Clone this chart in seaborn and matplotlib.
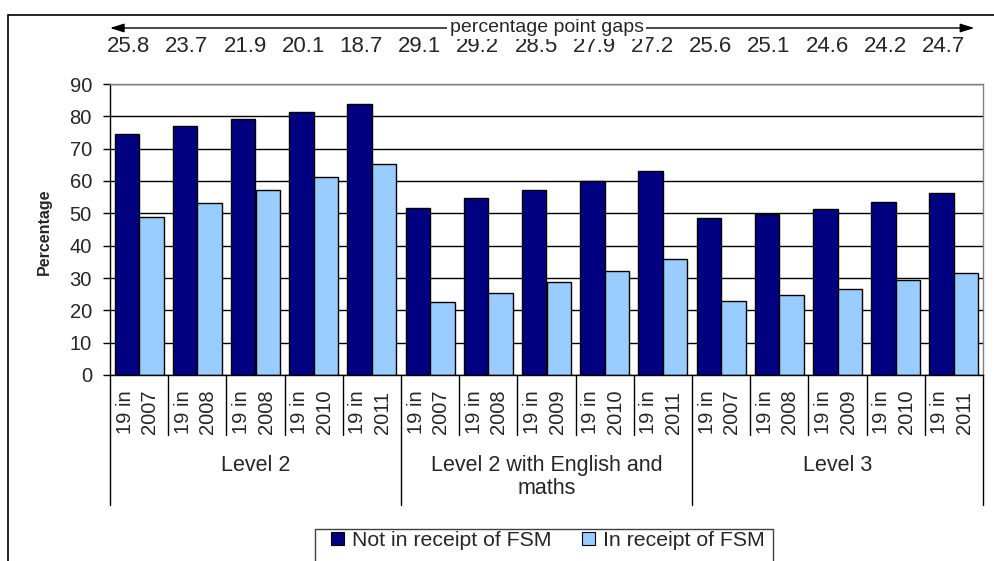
import matplotlib
matplotlib.use("Agg")
import matplotlib.pyplot as plt
import matplotlib.transforms as mtransforms
from matplotlib.patches import Patch, Rectangle
from matplotlib.lines import Line2D
import seaborn as sns
import pandas as pd

# ---------------- data ----------------
groups = ["Level 2", "Level 2 with English and\nmaths", "Level 3"]
year_labels = ["2007", "2008", "2008", "2010", "2011",
               "2007", "2008", "2009", "2010", "2011",
               "2007", "2008", "2009", "2010", "2011"]
not_fsm = [74.6, 77.0, 79.2, 81.3, 83.9,
           51.8, 54.6, 57.2, 60.1, 63.0,
           48.5, 49.7, 51.2, 53.6, 56.4]
fsm = [48.8, 53.3, 57.3, 61.2, 65.2,
       22.7, 25.4, 28.7, 32.2, 35.8,
       22.9, 24.6, 26.6, 29.4, 31.7]
gaps = ["25.8", "23.7", "21.9", "20.1", "18.7",
        "29.1", "29.2", "28.5", "27.9", "27.2",
        "25.6", "25.1", "24.6", "24.2", "24.7"]
series_names = ["Not in receipt of FSM", "In receipt of FSM"]
colors = ["#000080", "#99CCFF"]
per_group = 5

# ---------------- table ----------------
cats = [f"{groups[i // per_group]}|{i}" for i in range(len(year_labels))]
rows = []
for c, a, b in zip(cats, not_fsm, fsm):
    rows.append({"cat": c, "series": series_names[0], "value": a})
    rows.append({"cat": c, "series": series_names[1], "value": b})
df = pd.DataFrame(rows)

# ---------------- figure ----------------
sns.set_style("white")
plt.rcParams["font.family"] = ["Liberation Sans", "DejaVu Sans"]

W, H = 994, 561
fig = plt.figure(figsize=(W / 100, H / 100), dpi=100)
ax = fig.add_axes([110 / W, 1 - 375 / H, 873 / W, 291 / H])

sns.barplot(data=df, x="cat", y="value", hue="series", order=cats,
            hue_order=series_names, palette=colors, width=0.84,
            edgecolor="black", linewidth=1.0, saturation=1,
            errorbar=None, legend=False, ax=ax)

ax.set_ylim(0, 90)
ax.set_xlim(-0.5, len(cats) - 0.5)
ax.set_yticks(range(0, 91, 10))
ax.set_xticks([])
ax.set_xlabel("")
ax.set_ylabel("")
ax.yaxis.grid(True, color="black", linewidth=1.0)
ax.set_axisbelow(True)
ax.tick_params(axis="y", direction="out", length=5, width=1, color="black",
               pad=8, labelsize=14.5, left=True)
for side in ["left", "bottom"]:
    ax.spines[side].set_color("black")
    ax.spines[side].set_linewidth(1.0)
for side in ["top", "right"]:
    ax.spines[side].set_color("#808080")
    ax.spines[side].set_linewidth(1.0)

blend = mtransforms.blended_transform_factory(ax.transData, fig.transFigure)
y0 = 1 - 375 / H

# category dividers
for k in range(len(cats) + 1):
    ybot = 1 - (505 if k % per_group == 0 else 435) / H
    ax.add_line(Line2D([k - 0.5, k - 0.5], [y0, ybot], transform=blend,
                       color="black", linewidth=1.0, clip_on=False))

# inner category labels
for i, yr in enumerate(year_labels):
    ax.text(i - 0.03, 1 - 434 / H, "19 in\n" + yr, rotation=90, ha="center",
            va="bottom", multialignment="left", fontsize=14.5,
            linespacing=1.38, transform=blend, clip_on=False)

# group labels
for g, name in enumerate(groups):
    cx = g * per_group + (per_group - 1) / 2
    ax.text(cx, 1 - 455 / H, name, ha="center", va="top", fontsize=15.5,
            linespacing=1.15, transform=blend, clip_on=False)

# gap labels
for i, gtxt in enumerate(gaps):
    ax.text(i - 0.18, 1 - 46 / H, gtxt, ha="center", va="center",
            fontsize=16, transform=blend, clip_on=False)

# percentage point gaps arrow
ya = 1 - 28 / H
ax.annotate("", xy=(-0.5, ya), xytext=(14.35, ya), xycoords=blend,
            textcoords=blend,
            arrowprops=dict(arrowstyle="<|-|>,head_length=0.7,head_width=0.22",
                            color="black", linewidth=1.0, shrinkA=0, shrinkB=0,
                            mutation_scale=12))
ax.text(7, ya, "percentage point gaps", ha="center", va="center",
        fontsize=14, transform=blend, clip_on=False, zorder=5,
        bbox=dict(facecolor="white", edgecolor="none", pad=1.5))

# y label
fig.text(44 / W, 1 - 232 / H, "Percentage", rotation=90, ha="center",
         va="center", fontsize=11.5, fontweight="bold")

# outer frame
fig.add_artist(Rectangle((8 / W, -0.2), 1.2, 1.2 - 15 / H,
                         transform=fig.transFigure, fill=False,
                         edgecolor="black", linewidth=1.2))

# legend (entries) + its frame
handles = [Patch(facecolor=c, edgecolor="black", linewidth=0.8) for c in colors]
leg = fig.legend(handles, series_names, loc="upper left",
                 bbox_to_anchor=(331 / W, 1 - 531 / H), ncol=2,
                 fontsize=15.3, frameon=False, borderaxespad=0, borderpad=0,
                 handlelength=0.62, handleheight=0.62, handletextpad=0.35,
                 columnspacing=1.45)
fig.add_artist(Rectangle((315 / W, -0.1), 458 / W, 0.1 + 1 - 529 / H,
                         transform=fig.transFigure, fill=False,
                         edgecolor="#404040", linewidth=1.0))

fig.savefig("out.png", dpi=100)
